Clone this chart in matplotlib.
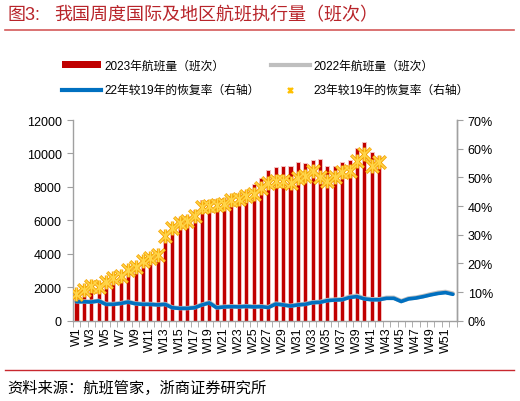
import numpy as np
import matplotlib
matplotlib.use('Agg')
import matplotlib.pyplot as plt
from matplotlib.lines import Line2D
from matplotlib.patches import Patch
from matplotlib.path import Path

plt.rcParams['font.family'] = ['Liberation Sans', 'Noto Sans CJK SC', 'DejaVu Sans']

# 周次
weeks = ['W%d' % i for i in range(1, 53)]

# 2023年航班量（班次），到W42
flights_2023 = [1500, 1690, 1990, 1890, 2530, 2690, 2890, 3250, 3290, 3790,
                3850, 3790, 4880, 5680, 6120, 6280, 6600, 7240, 7240, 7270,
                7350, 7480, 7560, 7740, 8150, 8520, 9010, 9170, 9250, 9220,
                9470, 9420, 9620, 9670, 9270, 9230, 9470, 9630, 10320, 10700,
                10070, 9870]

# 2022年航班量（班次）
flights_2022 = [1150, 1150, 1130, 1190, 1000, 1000, 1050, 1130, 1030, 1000,
                1000, 960, 1000, 790, 750, 750, 790, 960, 1090, 790,
                840, 860, 840, 870, 840, 860, 810, 1020, 960, 890,
                960, 1000, 1100, 1120, 1230, 1260, 1280, 1430, 1490, 1330,
                1280, 1280, 1370, 1370, 1170, 1330, 1380, 1470, 1580, 1670,
                1720, 1620]

# 22年较19年的恢复率（%）
rate_22 = [6.6, 6.6, 6.5, 6.9, 5.7, 5.7, 6.0, 6.5, 5.9, 5.7,
           5.7, 5.5, 5.7, 4.5, 4.3, 4.3, 4.5, 5.5, 6.2, 4.5,
           4.8, 4.9, 4.8, 5.0, 4.8, 4.9, 4.6, 5.8, 5.5, 5.1,
           5.5, 5.7, 6.3, 6.4, 7.0, 7.2, 7.3, 8.1, 8.4, 7.6,
           7.3, 7.3, 7.8, 7.8, 6.7, 7.6, 7.9, 8.4, 9.0, 9.5,
           9.8, 9.2]

# 23年较19年的恢复率（%）
rate_23 = [9.3, 10.7, 12.2, 11.6, 13.6, 14.8, 15.5, 17.8, 18.6, 20.9,
           21.9, 22.9, 29.4, 32.5, 33.9, 34.9, 36.6, 39.8, 39.9, 40.3,
           40.7, 42.0, 42.4, 43.4, 44.2, 46.3, 48.0, 48.8, 48.8, 48.0,
           49.8, 50.6, 52.3, 50.0, 48.8, 50.0, 51.7, 52.3, 55.8, 58.1,
           54.1, 55.5]

red = '#C00000'
blue = '#0070C0'
grey = '#BFBFBF'
star = '#FFC000'
star_edge = '#F5A300'
axis_grey = '#A0A0A0'

# Excel 风格星形标记：X 加一条竖线
star_marker = Path([(-1, -1), (1, 1), (-1, 1), (1, -1), (0, -1.1), (0, 1.1)],
                   [Path.MOVETO, Path.LINETO, Path.MOVETO, Path.LINETO,
                    Path.MOVETO, Path.LINETO])

fig = plt.figure(figsize=(5.2, 4.02), dpi=100)
ax = fig.add_axes([0.140, 0.1998, 0.738, 0.4992])
ax2 = ax.twinx()

x = np.arange(len(weeks))
x23 = np.arange(len(flights_2023))

ax.bar(x23, flights_2023, width=0.55, color=red, edgecolor='#F4C2C2', linewidth=0.7, zorder=2)
ax.plot(x, flights_2022, color=grey, linewidth=3.2, zorder=3, solid_capstyle='round')

ax2.plot(x, rate_22, color=blue, linewidth=2.6, zorder=3, solid_capstyle='round')
ax2.plot(x23, rate_23, linestyle='none', marker=star_marker, markersize=10,
         markeredgewidth=2.4, color=star_edge, zorder=4)
ax2.plot(x23, rate_23, linestyle='none', marker=star_marker, markersize=9.5,
         markeredgewidth=1.1, color='#FFD54A', zorder=5)

ax.set_xlim(-0.5, len(weeks) - 0.5)
ax.set_ylim(0, 12000)
ax.set_yticks(range(0, 12001, 2000))
ax2.set_ylim(0, 70)
ax2.set_yticks(range(0, 71, 10))
ax2.set_yticklabels(['%d%%' % v for v in range(0, 71, 10)])

ax.set_xticks(x[::2])
ax.set_xticklabels(weeks[::2], rotation=90)
ax.set_xticks(np.arange(-0.5, len(weeks), 1), minor=True)
ax.tick_params(axis='x', which='major', length=0, pad=4)
ax.tick_params(axis='x', which='minor', length=4, color=axis_grey)

for a in (ax, ax2):
    a.spines['top'].set_visible(False)
    for s in ('left', 'right', 'bottom'):
        a.spines[s].set_color(axis_grey)
        a.spines[s].set_linewidth(1.0)
    a.tick_params(axis='y', length=4, color=axis_grey, labelsize=9, pad=4)
ax.tick_params(axis='x', labelsize=9)
ax2.spines['left'].set_visible(False)
ax2.spines['bottom'].set_visible(False)

# 图例
handles = [Patch(facecolor=red, edgecolor='none'),
           Line2D([], [], color=blue, linewidth=3),
           Line2D([], [], color=grey, linewidth=3),
           Line2D([], [], linestyle='none', marker=star_marker, markersize=4,
                  markeredgewidth=1.6, color=star)]
labels = ['2023年航班量（班次）', '22年较19年的恢复率（右轴）',
          '2022年航班量（班次）', '23年较19年的恢复率（右轴）']
fig.legend(handles, labels, ncol=2, loc='upper left', bbox_to_anchor=(0.098, 0.875),
           frameon=False, fontsize=8.5, handlelength=3.3, handleheight=0.45,
           handletextpad=0.35, columnspacing=0.9, labelspacing=1.05)

# 标题与来源
fig.text(0.014, 0.962, '图3:', color='#B8242A', fontsize=13, va='center', ha='left')
fig.text(0.104, 0.962, '我国周度国际及地区航班执行量（班次）', color='#B8242A',
         fontsize=13, va='center', ha='left')
fig.add_artist(Line2D([0.01, 0.988], [0.922, 0.922], color='#D45A5A', linewidth=1.2))
fig.add_artist(Line2D([0.01, 0.988], [0.078, 0.078], color='#C8282E', linewidth=1.0))
fig.text(0.014, 0.035, '资料来源：航班管家，浙商证券研究所', color='black',
         fontsize=11, va='center', ha='left')

fig.savefig('out.png', dpi=100)
